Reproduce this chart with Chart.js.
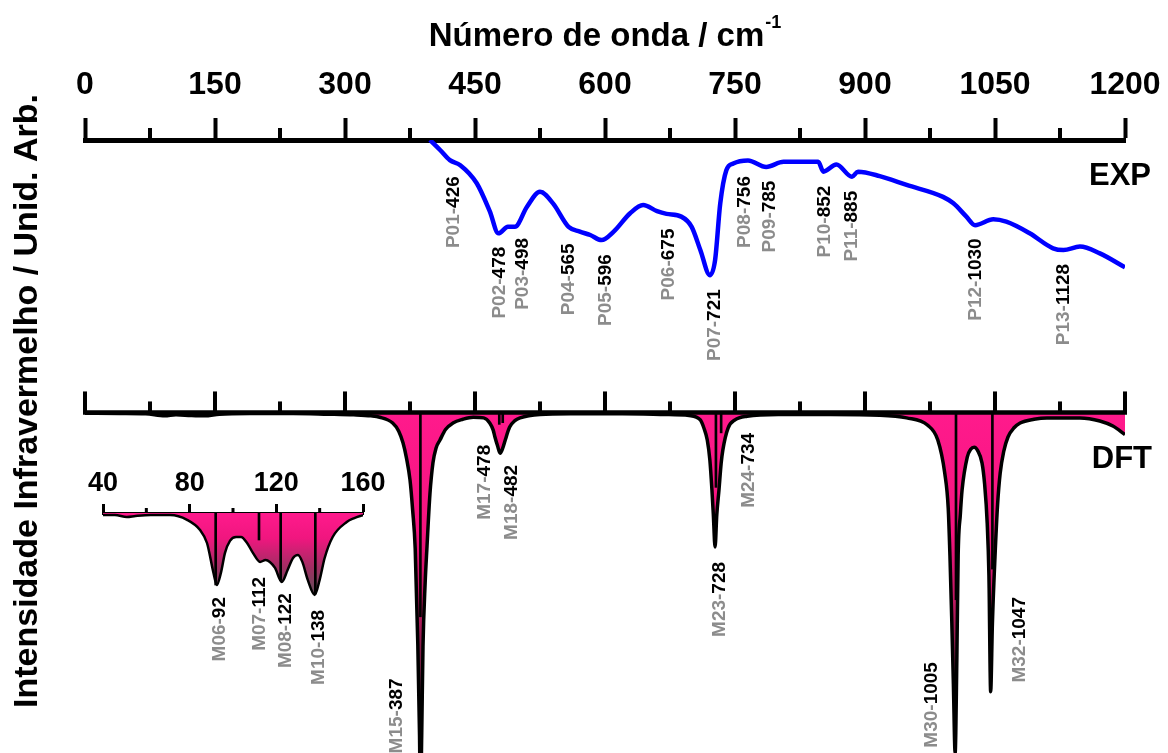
<!DOCTYPE html>
<html>
<head>
<meta charset="utf-8">
<script src="https://cdn.jsdelivr.net/npm/chart.js@4.4.1/dist/chart.umd.min.js"></script>
<style>
html,body{margin:0;padding:0;background:#fff;}
#wrap{position:relative;width:1168px;height:753px;overflow:hidden;background:#fff;}
#main{position:absolute;left:0;top:0;width:1168px;height:753px;}
#inset{position:absolute;left:63px;top:440px;width:340px;height:270px;}
</style>
</head>
<body>
<div id="wrap">
<canvas id="main" width="1168" height="753"></canvas>
<canvas id="inset" width="340" height="270"></canvas>
</div>
<script>
// ---------- DATA ----------
// Experimental spectrum (wavenumber / cm-1, intensity a.u.)
const expWn  = [398,410,421,433,452,467,477,488,496,510,525,540,558,571,583,596,610,629,644,660,671,688,700,710,721,727,733,740,748,765,786,806,846,852,867,885,892,917,948,990,1002,1017,1027,1048,1063,1090,1117,1129,1148,1171,1200];
const expVal = [80.0,77.0,74.1,72.6,67.3,59.1,52.6,54.5,54.5,60.4,64.8,61.4,54.5,53.1,52.1,50.6,53.1,58.5,60.9,59.1,58.3,57.5,54.5,47.7,40.3,44.7,61.4,71.1,73.1,74.0,72.1,73.6,73.6,70.7,72.8,69.2,70.7,69.4,66.8,63.3,61.4,57.5,55.0,56.7,56.0,52.6,48.2,47.7,48.7,46.7,42.6];

// DFT spectrum (drawn downward)
const dftWn  = [0,40,70,92,105,122,138,155,190,240,280,310,330,340,355,362,367,371,375,378,381,384,386,387,388.5,390,392.5,394.6,398,401.5,405,409.6,416,424.6,436,448,460,467,471,473,476,479,482,485,490,496,502,525,560,620,670,697,710,714,718,721,723.4,725,727,729,731.5,734,736,742,750,764,800,860,917,948,972,984,992,996,998,1000,1002,1004,1006,1007.5,1010,1012,1018,1022,1026,1030,1035,1038,1041,1043,1045,1047,1050,1053,1056,1060,1065,1072,1079,1095,1110,1148,1171,1186,1200];
const dftVal = [-0.2,-0.3,-0.4,-1.0,-0.7,-0.9,-1.0,-0.5,-0.3,-0.3,-0.5,-0.7,-1.0,-1.4,-3.1,-5.5,-9.0,-13.5,-19.8,-28.5,-40.0,-68.0,-95.0,-115.0,-95.0,-68.8,-50.0,-39.5,-24.0,-14.8,-10.5,-8.1,-5.0,-3.1,-2.0,-1.4,-1.6,-3.1,-5.2,-7.2,-9.8,-12.0,-10.5,-8.0,-4.3,-2.4,-1.6,-0.6,-0.4,-0.4,-0.6,-0.9,-2.2,-4.5,-8.1,-14.0,-22.8,-30.0,-39.5,-30.0,-22.8,-15.0,-11.0,-4.6,-2.2,-1.1,-0.6,-0.6,-0.8,-1.6,-3.7,-8.1,-17.8,-28.0,-42.0,-60.0,-80.0,-100.0,-72.0,-42.0,-30.0,-22.8,-13.1,-10.8,-10.2,-11.2,-14.8,-21.0,-32.5,-48.0,-82.0,-62.0,-42.4,-27.0,-17.8,-11.5,-7.2,-4.5,-3.1,-2.0,-1.6,-1.6,-2.5,-4.0,-6.5];

// DFT modes (sticks + labels)
const dftModeNames = ['M15','M17','M18','M23','M24','M30','M32'];
const dftModeWn    = [387,478,482,728,734,1005,1047];
const dftModeInt   = [-60,-3.5,-3,-22,-6,-55,-46];

// Inset: low-wavenumber DFT region (magnified)
const insetWn  = [40,45.5,51,55,62,71,78.8,84.8,88,91,92.5,94.5,96.3,98.6,101.4,103.7,106.5,109.2,112.5,115,117,119.4,122.5,125.2,127.7,130,132,134.5,137.7,140,142.3,146,152.5,156,160];
const insetVal = [-0.7,-0.7,-1.3,-1.0,-0.7,-0.7,-2.3,-5.7,-10,-20,-24,-19.7,-13.3,-9.3,-8.0,-8.0,-10,-13.3,-16.3,-15.7,-16.3,-18.3,-23,-19,-15,-14,-16.3,-22.3,-27.3,-22.3,-15,-8,-3,-1.7,-0.7];
const insetModeNames = ['M06','M07','M08','M10'];
const insetModeWn    = [92,112,122,138];
const insetModeInt   = [-24,-9,-22.5,-27];

// Experimental peak labels
const expPeakNames = ['P01','P02','P03','P04','P05','P06','P07','P08','P09','P10','P11','P12','P13'];
const expPeakWn    = [426,478,498,565,596,675,721,756,785,852,885,1030,1128];

// Tick labels
const mainTicks  = [0,150,300,450,600,750,900,1050,1200];
const mainMinor  = [75,225,375,525,675,825,975,1125];
const insetTicks = [40,80,120,160];
const insetMinor = [60,100,140];

// ---------- LAYOUT / STYLE (not data) ----------
const FONT = "'Liberation Sans', Arial, Helvetica, sans-serif";
const GRAY = '#8c8c8c', BLACK = '#000000';
const expLabelDx = [-2,-1,5,-7,3,-3,3,3,3,0,-2,-3,0];
const expLabelGap = 14;
const dftLabelAt = [[357.7,-78.1],[459.3,-9.5],[490.4,-15.4],[730.3,-43.9],[763.8,-6.0],[974.9,-73.3],[1076.5,-54.2]];
const insetLabelAt = [[93.1,-28],[111.5,-21.3],[123.5,-26.7],[138.8,-32.3]];

const zip = (a,b) => a.map((v,i)=>({x:v,y:b[i]}));

function interp(xs, ys, x){
  if (x <= xs[0]) return ys[0];
  for (let i=1;i<xs.length;i++){
    if (x <= xs[i]) { const t=(x-xs[i-1])/(xs[i]-xs[i-1]); return ys[i-1]+t*(ys[i]-ys[i-1]); }
  }
  return ys[ys.length-1];
}

function drawVLabel(ctx, prefix, num, xc, top, size){
  ctx.save();
  ctx.font = 'bold ' + size + 'px ' + FONT;
  const w1 = ctx.measureText(prefix).width, w2 = ctx.measureText(num).width;
  const W = w1 + w2;
  ctx.translate(xc + size*0.358, top);
  ctx.rotate(-Math.PI/2);
  ctx.textAlign = 'left'; ctx.textBaseline = 'alphabetic';
  ctx.fillStyle = GRAY; ctx.fillText(prefix, -W, 0);
  ctx.fillStyle = BLACK; ctx.fillText(num, -W + w1, 0);
  ctx.restore();
}

function mainGradient(context){
  const ch = context.chart;
  if (!ch.chartArea) return 'rgba(0,0,0,0)';
  const ys = ch.scales.y;
  const g = ch.ctx.createLinearGradient(0, ys.getPixelForValue(0), 0, ys.getPixelForValue(-100));
  g.addColorStop(0, '#ff1a8c');
  g.addColorStop(0.35, '#f5147f');
  g.addColorStop(0.6, '#b01a5a');
  g.addColorStop(0.8, '#5a2038');
  g.addColorStop(1, '#2a2a2a');
  return g;
}
function insetGradient(context){
  const ch = context.chart;
  if (!ch.chartArea) return 'rgba(0,0,0,0)';
  const ys = ch.scales.y;
  const g = ch.ctx.createLinearGradient(0, ys.getPixelForValue(0), 0, ys.getPixelForValue(-28));
  g.addColorStop(0, '#ff1a8c');
  g.addColorStop(0.3, '#f0167f');
  g.addColorStop(0.65, '#a02e62');
  g.addColorStop(1, '#5a5258');
  return g;
}

const mainDecor = {
  id: 'mainDecor',
  afterDatasetsDraw(chart){
    const {ctx, scales:{x, y}} = chart;
    ctx.save();
    ctx.strokeStyle = BLACK;
    // minor ticks on top axis
    ctx.lineWidth = 4;
    const top = chart.chartArea.top;
    mainMinor.forEach(v => { const px = x.getPixelForValue(v); ctx.beginPath(); ctx.moveTo(px, top); ctx.lineTo(px, top-12); ctx.stroke(); });
    // DFT baseline axis
    const y0 = y.getPixelForValue(0);
    ctx.lineWidth = 4.5;
    ctx.beginPath(); ctx.moveTo(x.getPixelForValue(0)-2, y0); ctx.lineTo(x.getPixelForValue(1200)+2, y0); ctx.stroke();
    ctx.lineWidth = 4;
    mainTicks.forEach(v => { const px = x.getPixelForValue(v); ctx.beginPath(); ctx.moveTo(px, y0); ctx.lineTo(px, y0-21); ctx.stroke(); });
    mainMinor.forEach(v => { const px = x.getPixelForValue(v); ctx.beginPath(); ctx.moveTo(px, y0); ctx.lineTo(px, y0-11); ctx.stroke(); });
    ctx.restore();
  },
  afterDraw(chart){
    const {ctx, scales:{x, y}} = chart;
    // peak labels (EXP)
    expPeakNames.forEach((n,i) => {
      const wn = expPeakWn[i];
      const xc = x.getPixelForValue(wn) + expLabelDx[i];
      const top = y.getPixelForValue(interp(expWn, expVal, wn)) + expLabelGap;
      drawVLabel(ctx, n + '-', String(wn), xc, top, 19);
    });
    // mode labels (DFT)
    dftModeNames.forEach((n,i) => {
      const [lx, ly] = dftLabelAt[i];
      drawVLabel(ctx, n + '-', String(dftModeWn[i]), x.getPixelForValue(lx), y.getPixelForValue(ly), 19);
    });
    ctx.save();
    ctx.fillStyle = BLACK;
    // series names
    ctx.font = 'bold 31px ' + FONT;
    ctx.textAlign = 'right'; ctx.textBaseline = 'alphabetic';
    ctx.fillText('EXP', 1151, 185);
    ctx.fillText('DFT', 1152, 468);
    // x-axis title with superscript
    const cx = (chart.chartArea.left + chart.chartArea.right)/2;
    ctx.font = 'bold 33px ' + FONT;
    const mainT = 'Número de onda / cm';
    const wm = ctx.measureText(mainT).width;
    ctx.font = 'bold 18px ' + FONT;
    const ws = ctx.measureText('-1').width;
    const x0 = cx - (wm + ws + 1)/2;
    ctx.textAlign = 'left';
    ctx.font = 'bold 33px ' + FONT;
    ctx.fillText(mainT, x0, 46);
    ctx.font = 'bold 18px ' + FONT;
    ctx.fillText('-1', x0 + wm + 1, 28);
    // y-axis title
    ctx.font = 'bold 34px ' + FONT;
    ctx.translate(37, 401);
    ctx.rotate(-Math.PI/2);
    ctx.textAlign = 'center';
    ctx.fillText('Intensidade Infravermelho / Unid. Arb.', 0, 0);
    ctx.restore();
  }
};

const insetDecor = {
  id: 'insetDecor',
  afterDatasetsDraw(chart){
    const {ctx, scales:{x}} = chart;
    ctx.save();
    ctx.strokeStyle = BLACK; ctx.lineWidth = 3;
    const top = chart.chartArea.top;
    insetMinor.forEach(v => { const px = x.getPixelForValue(v); ctx.beginPath(); ctx.moveTo(px, top); ctx.lineTo(px, top-5); ctx.stroke(); });
    ctx.restore();
  },
  afterDraw(chart){
    const {ctx, scales:{x, y}} = chart;
    insetModeNames.forEach((n,i) => {
      const [lx, ly] = insetLabelAt[i];
      drawVLabel(ctx, n + '-', String(insetModeWn[i]), x.getPixelForValue(lx), y.getPixelForValue(ly), 19);
    });
  }
};

new Chart(document.getElementById('main'), {
  type: 'line',
  data: {
    datasets: [
      { type:'bar', label:'DFT modes', data: zip(dftModeWn, dftModeInt), backgroundColor: BLACK, borderWidth:0, barThickness:2, order:0 },
      { label:'DFT', data: zip(dftWn, dftVal), borderColor: BLACK, borderWidth:3.5, fill:'origin', backgroundColor: mainGradient, pointRadius:0, cubicInterpolationMode:'monotone', order:1 },
      { label:'EXP', data: zip(expWn, expVal), borderColor:'#0000ff', borderWidth:4.5, fill:false, pointRadius:0, cubicInterpolationMode:'monotone', order:2 }
    ]
  },
  options: {
    responsive:false, animation:false, devicePixelRatio:1,
    layout:{ padding:{ left:85, right:43, top:0, bottom:0 } },
    plugins:{ legend:{display:false}, tooltip:{enabled:false}, title:{display:false} },
    scales:{
      x:{
        type:'linear', position:'top', min:0, max:1200, offset:false,
        afterBuildTicks: s => { s.ticks = mainTicks.map(v => ({value:v})); },
        ticks:{ autoSkip:false, maxRotation:0, padding:14, color:BLACK, font:{ family:FONT, size:32, weight:'bold' }, callback: v => String(v) },
        grid:{ display:true, offset:false, drawOnChartArea:false, drawTicks:true, tickLength:22, tickWidth:4, tickColor:BLACK },
        border:{ display:true, width:5, color:BLACK },
        afterFit: s => { s.height = 140; s.paddingLeft = 0; s.paddingRight = 0; }
      },
      y:{ type:'linear', min:-100, max:80, display:false }
    }
  },
  plugins:[mainDecor]
});

new Chart(document.getElementById('inset'), {
  type: 'line',
  data: {
    datasets: [
      { type:'bar', label:'modes', data: zip(insetModeWn, insetModeInt), backgroundColor: BLACK, borderWidth:0, barThickness:2, order:0 },
      { label:'DFT inset', data: zip(insetWn, insetVal), borderColor: BLACK, borderWidth:2.5, fill:'origin', backgroundColor: insetGradient, pointRadius:0, cubicInterpolationMode:'monotone', order:1 }
    ]
  },
  options: {
    responsive:false, animation:false, devicePixelRatio:1,
    layout:{ padding:{ left:40, right:40, top:0, bottom:107 } },
    plugins:{ legend:{display:false}, tooltip:{enabled:false} },
    scales:{
      x:{
        type:'linear', position:'top', min:40, max:160, offset:false,
        afterBuildTicks: s => { s.ticks = insetTicks.map(v => ({value:v})); },
        ticks:{ autoSkip:false, maxRotation:0, padding:4, color:BLACK, font:{ family:FONT, size:27, weight:'bold' }, callback: v => String(v) },
        grid:{ display:true, offset:false, drawOnChartArea:false, drawTicks:true, tickLength:9, tickWidth:3, tickColor:BLACK },
        border:{ display:true, width:3, color:BLACK },
        afterFit: s => { s.height = 73; s.paddingLeft = 0; s.paddingRight = 0; }
      },
      y:{ type:'linear', min:-30, max:0, display:false }
    }
  },
  plugins:[insetDecor]
});
</script>
</body>
</html>
